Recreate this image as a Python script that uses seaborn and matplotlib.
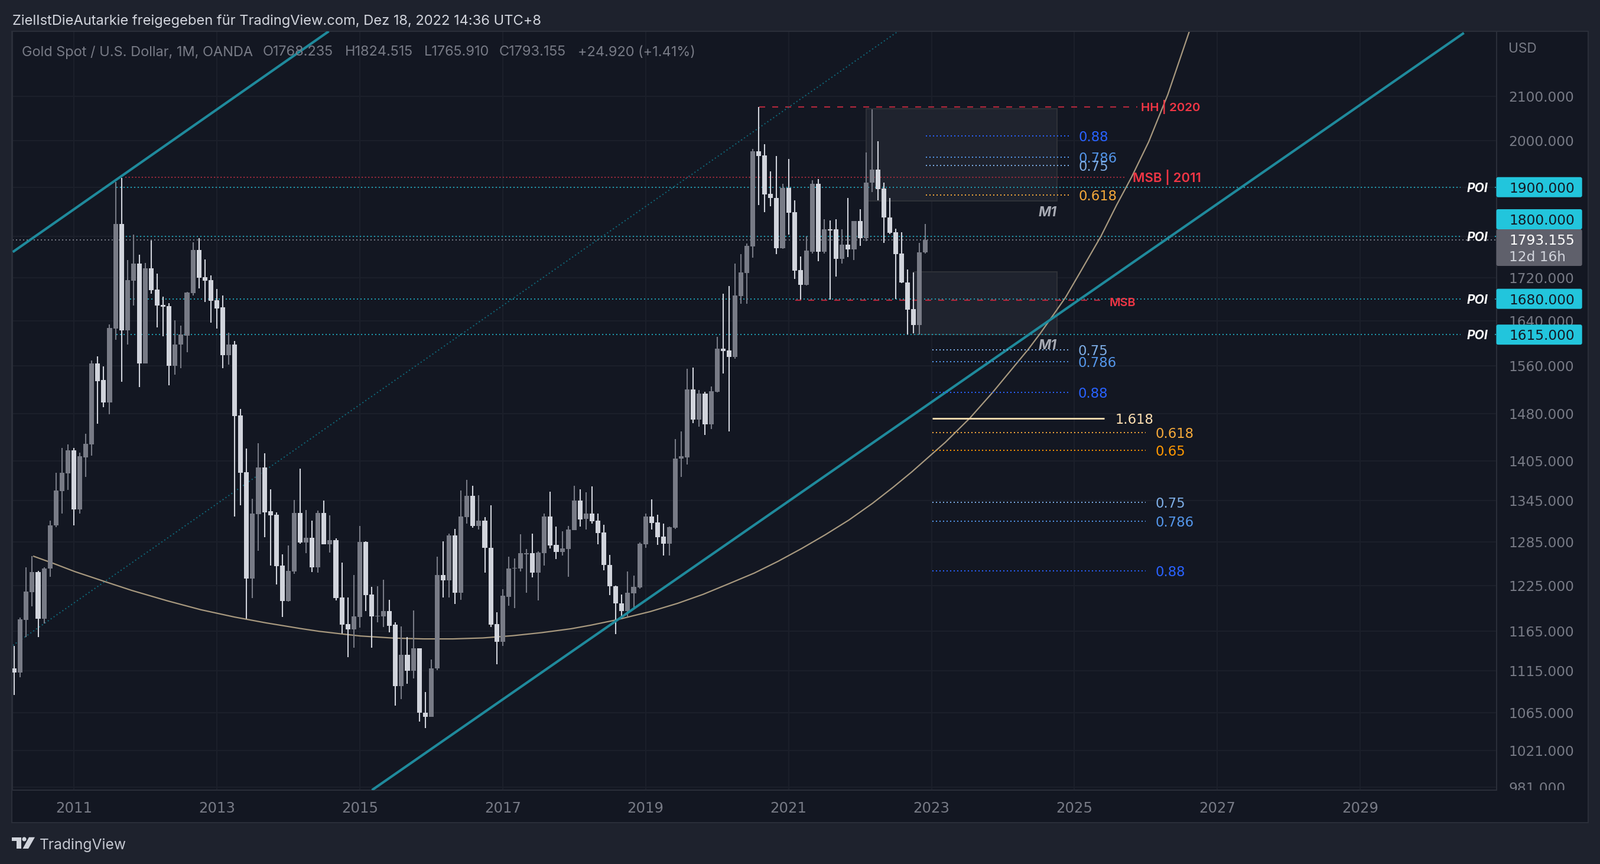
import numpy as np
import pandas as pd
import seaborn as sns
import matplotlib
matplotlib.use("Agg")
import matplotlib.pyplot as plt
from matplotlib.patches import Rectangle, FancyBboxPatch, Polygon, Circle
from matplotlib.ticker import NullLocator
from matplotlib.transforms import Bbox, IdentityTransform

# ---------- data ----------
first_month = "2010-03-01"
opens = [1118,1113,1179,1216,1243,1181,1248,1309,1359,1386,
1422,1332,1411,1431,1564,1536,1499,1626,1825,1623,1714,1746,
1565,1737,1697,1669,1666,1560,1597,1613,1691,1773,1721,1715,
1677,1664,1579,1597,1477,1388,1234,1325,1395,1329,1324,1252,
1204,1244,
1327,1284,1291,1250,1327,1282,1288,1209,1174,1167,1183,1285,
1213,1184,1184,1191,1173,1096,1135,1115,1143,1065,1060,1118,
1239,1232,1294,1215,1321,1352,1308,1316,1277,1174,1151,1210,
1248,1248,1268,1269,1242,1269,1322,1281,1271,1275,1302,1345,
1318,1326,1316,1299,1253,1224,1201,1191,1214,1222,1282,
1322,1313,1293,1283,1305,1409,1411,1520,1471,1513,1463,1516,
1590,1587,1576,1685,1728,1780,1977,1967,1886,1878,1776,1899,
1848,1734,1706,1770,1907,1769,1814,1814,1756,1783,1774,1830,
1796,1909,1937,1897,1837,1808,1766,1711,1661,1632,1768.235]
highs = [1146,1182,1250,1265,1245,1250,1316,1387,1425,1431,
1425,1418,1448,1570,1577,1559,1633,1911,1919,1753,1803,1764,
1748,1792,1727,1684,1672,1641,1631,1693,1788,1796,1755,1724,
1698,1686,1618,1604,1488,1424,1348,1433,1417,1362,1328,1268,
1280,1346,
1393,1331,1316,1330,1345,1323,1290,1256,1209,1239,1308,1286,
1223,1224,1233,1206,1176,1171,1157,1192,1143,1089,1129,1264,
1286,1297,1304,1360,1376,1367,1353,1321,1338,1189,1220,1264,
1262,1296,1275,1297,1272,1326,1358,1307,1300,1308,1367,1362,
1357,1366,1326,1310,1267,1225,1213,1244,1238,1284,1326,
1347,1324,1311,1307,1439,1452,1555,1557,1519,1516,1525,1611,
1689,1704,1747,1765,1786,1982,2076,1992,1933,1966,1907,1960,
1873,1760,1800,1914,1917,1834,1832,1834,1814,1878,1830,1854,
1974,2070,1998,1910,1878,1815,1808,1735,1730,1787,1824.515]
lows = [1086,1107,1157,1197,1157,1175,1237,1306,1326,1361,
1309,1326,1381,1413,1464,1491,1479,1606,1533,1597,1668,1524,
1564,1689,1628,1612,1527,1545,1556,1584,1686,1699,1674,1636,
1626,1556,1562,1322,1338,1181,1208,1273,1292,1252,1226,1183,
1203,1241,
1283,1269,1243,1242,1282,1270,1205,1162,1132,1144,1169,1191,
1144,1176,1170,1163,1073,1081,1099,1106,1054,1047,1060,1116,
1209,1209,1200,1206,1311,1305,1303,1242,1170,1123,1146,1198,
1195,1244,1215,1236,1205,1252,1276,1261,1266,1237,1302,1307,
1303,1311,1282,1246,1212,1161,1181,1184,1195,1221,1277,
1303,1281,1266,1266,1304,1381,1400,1465,1459,1446,1455,1515,
1547,1452,1573,1671,1671,1758,1863,1848,1860,1765,1775,1803,
1717,1678,1705,1766,1751,1766,1678,1722,1746,1759,1753,1781,
1790,1890,1873,1787,1804,1680,1709,1615,1617,1615,1765.91]
closes = [1113,1180,1217,1243,1181,1248,1309,1360,1387,1422,
1332,1412,1432,1564,1534,1499,1627,1825,1623,1715,1746,1565,
1737,1696,1668,1665,1560,1597,1615,1692,1773,1720,1714,1676,
1662,1579,1597,1476,1387,1234,1326,1395,1328,1323,1251,1204,
1245,1327,
1284,1291,1250,1327,1282,1288,1208,1173,1167,1184,1285,1212,
1184,1185,1191,1172,1096,1135,1115,1143,1065,1060,1118,1239,
1232,1294,1215,1322,1352,1308,1316,1277,1173,1151,1211,1248,
1249,1269,1269,1242,1270,1322,1280,1271,1276,1303,1345,1317,
1326,1315,1298,1253,1224,1201,1191,1215,1223,1283,1322,
1312,1292,1283,1306,1409,1412,1520,1471,1513,1463,1517,1590,
1586,1576,1686,1730,1781,1977,1966,1885,1878,1776,1899,1847,
1733,1706,1772,1907,1769,1814,1812,1756,1783,1774,1830,1796,
1910,1937,1896,1837,1807,1765,1711,1660,1632,1768,1793.155]

year_labels = [2011,2013,2015,2017,2019,2021,2023,2025,2027,2029]
price_ticks = [2100,2000,1900,1800,1720,1640,1560,1480,1405,1345,1285,1225,1165,1115,1065,1021,981]
hidden_ticks = [1900,1800]
poi_levels = [1900,1800,1680,1615]
poi_starts = [7.1,8.7,9.4,7.1]
last_price = 1793.155

upper_m = [-10.25,42.8];  upper_p = [1769,2256]
lower_m = [50.05,233.4];  lower_p = [977.6,2252]
mid_m = [-10.25,138.3];   mid_p = [1146.7,2255]
arc_m = [-6.85,-3.47,0.17,5.13,9.75,15.7,21.33,26.95,32.24,38.19,41.17,45.14,48.11,53.74,58.7,63.66,68.62,73.58,78.54,83.5,
         86.8,91.07,96.73,101.36,105.65,109.95,114.25,118.22,122.19,126.16,130.13,134.1,137.57,140.7,144.02,146.33,150.46,
         154.27,158.56,160.2,162.2,164.19,166.5,168.82,172.45,175.1,177.58,180.46,183.68,187.3]
arc_p = [1265.3,1255.2,1243.8,1230.4,1218.2,1204.4,1192.6,1183.1,1175.5,1168,1164.6,1161.1,1158.6,1155.9,1154.9,1154.9,1156.1,
         1158.9,1162.9,1167.9,1172.5,1179.3,1190.1,1201,1213,1227.2,1241.8,1257.9,1275.8,1295.3,1316.5,1341,1365,1388.3,1415.3,
         1434.3,1473.2,1515.4,1567.9,1588.4,1616.3,1646.4,1682.5,1727,1799.8,1863.3,1920.7,1997,2104,2256]

fib_upper_lab = ["0.88","0.786","0.75","0.618"]
fib_upper_p = [2010,1964,1946,1883.6]
fib_short_lab = ["0.75","0.786","0.88"]
fib_short_p = [1588,1567.7,1515.4]
fib_long_lab = ["0.618","0.65","0.75","0.786","0.88"]
fib_long_p = [1449.9,1421.8,1342.6,1314.9,1244.9]
ext_p = 1472.7
hh_p, msb2011_p, msb_p = 2075.5, 1921, 1677
box1_p = [1871,2071.5]
box2_p = [1615,1730.8]
m1_p = [1850.7,1597.5]

# ---------- styling ----------
W, H = 2708, 1462
DPI = 100
PANE = "#131722"; OUTER = "#1e222d"; BORDER = "#2a2e39"; GRID = "#1b1f2a"
GRAY = "#787b86"; WHITE = "#d1d4dc"; TEAL = "#1f8a9c"; POI = "#1f9cb0"; RED = "#f23645"
FIBC = {"0.88":"#2962ff","0.786":"#5496ea","0.75":"#7eaee6","0.618":"#f5a93a","0.65":"#ff9800"}
FONT = "Inter"; NUM = "DejaVu Sans"
sns.set_theme(style="dark", rc={"font.family":FONT,"axes.facecolor":PANE,"figure.facecolor":OUTER,
    "lines.scale_dashes":False,"axes.edgecolor":BORDER,"text.color":WHITE})

fig = plt.figure(figsize=(W/DPI,H/DPI),dpi=DPI,facecolor=OUTER)
L,R,T,B = 21,2532.5,53,1337
ax = fig.add_axes([L/W,1-B/H,(R-L)/W,(B-T)/H],facecolor=PANE,zorder=2)
ax.set_yscale("log")
rend = fig.canvas.get_renderer()

def fit(s,target,**k):
    t = fig.text(0,0,s,fontsize=10,**k)
    w = t.get_window_extent(rend).width
    t.remove()
    return 10*target/w

def ptext(x,y,s,**k):
    k.setdefault("va","center_baseline"); k.setdefault("ha","left")
    return fig.text(x/W,1-y/H,s,**k)

fig.add_artist(Rectangle((20,H-1392),2688-20,1392-53,transform=IdentityTransform(),fc=PANE,ec=BORDER,lw=1.44,zorder=0))

dates = pd.date_range(first_month,periods=len(opens),freq="MS")
df = pd.DataFrame({"m":(dates.year-2011)*12+dates.month-1,"o":opens,"h":highs,"l":lows,"c":closes})
df["col"] = np.where(df.c>=df.o,GRAY,WHITE)
df["top"] = df[["o","c"]].max(axis=1); df["bot"] = df[["o","c"]].min(axis=1)

def line(mx,py,color,lw,ls="-",z=2):
    sns.lineplot(x=mx,y=py,ax=ax,color=color,linewidth=lw,estimator=None,sort=False,legend=False,zorder=z)
    l = ax.lines[-1]; l.set_linestyle(ls); l.set_dash_capstyle("butt"); l.set_solid_capstyle("butt")
    return l

DOT = (0,(1.44,2.88)); DASH = (0,(7.2,8.64)); RD = (0,(1.6,2.4))

# boxes
for x0,x1,(p0,p1) in [(133.0,165.1,box1_p),(141.0,165.1,box2_p)]:
    ax.add_patch(Rectangle((x0,p0),x1-x0,p1-p0,fc="#1f232e",ec="#2e3138",lw=1.44,zorder=1.5))

# horizontal levels
for p,s in zip(poi_levels,poi_starts):
    line([s,232.8],[p,p],POI,1.44,DOT)
    line([238.6,238.8],[p,p],POI,1.44)
line([-10.3,238.8],[last_price,last_price],GRAY,1.44,DOT)
line([8.6,176.7],[msb2011_p,msb2011_p],"#9c2a3c",1.44,RD)
line([115.1,178.6],[hh_p,hh_p],"#b0283c",1.6,DASH)
line([121.1,172.3],[msb_p,msb_p],"#b0283c",1.6,DASH)

line(mid_m,mid_p,"#0f6a7c",1.44,DOT)
line(arc_m,arc_p,"#a8997f",1.6)

# candles
ax.vlines(df.m,df.l,df.h,colors=df.col,lw=1.5,zorder=3)
ax.bar(df.m,df.top-df.bot,bottom=df.bot,width=0.8,color=df.col,linewidth=0,zorder=3.2)

line(upper_m,upper_p,TEAL,3.0,z=4)
line(lower_m,lower_p,TEAL,3.0,z=4)

# fib levels
fib_fs = fit("0.618",65,family=NUM)
def fib(labs,ps,x0,x1,xl):
    for s,p in zip(labs,ps):
        c = FIBC[s]
        line([x0,x1],[p,p],c,1.44,DOT,z=4.5)
        ax.text(xl,p,s,color=c,family=NUM,fontsize=fib_fs,va="center_baseline",ha="left",zorder=5)
fib(fib_upper_lab,fib_upper_p,143.06,167.2,168.75)
fib(fib_short_lab,fib_short_p,144.1,167,168.6)
fib(fib_long_lab,fib_long_p,144.1,180,181.6)
line([144.1,173],[ext_p,ext_p],"#ffe0b2",2.0,z=4.5)
ax.text(174.9,ext_p,"1.618",color="#ffe0b2",family=NUM,fontsize=fib_fs,va="center_baseline",ha="left",zorder=5)

# red labels
for xl,p,s,w,va in [(179.2,hh_p,"HH | 2020",101,"center"),(177.8,msb2011_p,"MSB | 2011",115,"center"),(173.9,msb_p*0.998,"MSB",44.5,"center_baseline")]:
    ax.text(xl,p,s,color=RED,fontsize=fit(s,w,fontweight="semibold"),fontweight="semibold",va=va,ha="left",zorder=5)
m1_fs = fit("M1",31,fontweight="bold",fontstyle="italic")
for p in m1_p:
    ax.text(165,p,"M1",color="#a8abb4",fontsize=m1_fs,fontweight="bold",fontstyle="italic",va="center_baseline",ha="right",zorder=5)

# POI labels
poi_fs = fit("POI",35.7,fontweight="bold",fontstyle="italic")
for p in poi_levels:
    ax.text(235.7,p,"POI",color="white",fontsize=poi_fs,fontweight="bold",fontstyle="italic",va="center_baseline",ha="center",zorder=6)

# axes
price_fs = fit("2100.000",110,family=NUM)
year_fs = fit("2011",62,family=NUM)
ax.set_xlim((L-125)/10.08,(R-125)/10.08)
ax.set_ylim(977.6,2256)
ax.set_xlabel(""); ax.set_ylabel("")
ax.set_xticks([(y-2011)*12 for y in year_labels],[str(y) for y in year_labels])
ax.yaxis.tick_right()
ax.set_yticks(price_ticks,["" if v in hidden_ticks else f"{v:.3f}" for v in price_ticks])
ax.yaxis.set_minor_locator(NullLocator()); ax.xaxis.set_minor_locator(NullLocator())
ax.tick_params(axis="y",length=0,pad=15,labelsize=price_fs,labelcolor=GRAY,labelfontfamily=NUM)
ax.tick_params(axis="x",length=0,pad=14,labelsize=year_fs,labelcolor=GRAY,labelfontfamily=NUM)
ax.grid(True,color=GRID,lw=1.44); ax.set_axisbelow(True)
for s in ax.spines.values():
    s.set_color(BORDER); s.set_linewidth(1.44)
clip = Bbox([[R,H-B],[2688,H-53]])
for t in ax.get_yticklabels():
    t.set_clip_on(True); t.set_clip_box(clip)

# price tags
fig.canvas.draw()
CY = "#22c5dc"; TX = "#131722"; it = IdentityTransform()
def tagbox(ytop,ybot,col):
    fig.add_artist(FancyBboxPatch((R,H-ybot),2677.7-R,ybot-ytop,boxstyle="round,pad=0,rounding_size=3",
                   transform=it,fc=col,ec="none",zorder=8))
def tag(p,text):
    yc = H-ax.transData.transform((0,p))[1]
    tagbox(yc-17,yc+17,CY)
    ptext(2554,yc,text,color=TX,family=NUM,fontsize=price_fs,zorder=9)
tag(1900,"1900.000")
tag(1680,"1680.000")
tag(1615,"1615.000")
tagbox(354,388,CY)
ptext(2554,371,"1800.000",color=TX,family=NUM,fontsize=price_fs,zorder=9)
tagbox(388,450,"#5f606b")
ptext(2554,404.8,f"{last_price:.3f}",color="white",family=NUM,fontsize=price_fs,zorder=9)
ptext(2554,432.7,"12d 16h",color=WHITE,family=NUM,fontsize=price_fs,zorder=9)

# header texts
head = "ZielIstDieAutarkie freigegeben für TradingView.com, Dez 18, 2022 14:36 UTC+8"
ptext(20.7,33,head,color=WHITE,fontsize=fit(head,898),zorder=9)
leg_fs = fit("Gold Spot / U.S. Dollar, 1M, OANDA",393)
for x,s in [(37,"Gold Spot / U.S. Dollar, 1M, OANDA"),(445,"O1768.235"),(584,"H1824.515"),(718,"L1765.910"),(845,"C1793.155"),(978,"+24.920 (+1.41%)")]:
    ptext(x,86,s,color=GRAY,fontsize=leg_fs,zorder=9)
ptext(2553,80.6,"USD",color=GRAY,fontsize=fit("USD",48),zorder=9)

# footer logo + name
lc = WHITE
fig.add_artist(Polygon([(20,H-1416.7),(36,H-1416.7),(36,H-1436),(27.7,H-1436),(27.7,H-1422.5),(20,H-1422.5)],transform=it,fc=lc,ec="none",zorder=9))
fig.add_artist(Circle((41,H-1420),3.6,transform=it,fc=lc,ec="none",zorder=9))
fig.add_artist(Polygon([(49,H-1416.7),(59,H-1416.7),(48,H-1436),(38.5,H-1436)],transform=it,fc=lc,ec="none",zorder=9))
ptext(67,1428,"TradingView",color="#c4c7d0",fontsize=fit("TradingView",148),zorder=9)

fig.savefig("out.png",dpi=DPI,facecolor=OUTER)
